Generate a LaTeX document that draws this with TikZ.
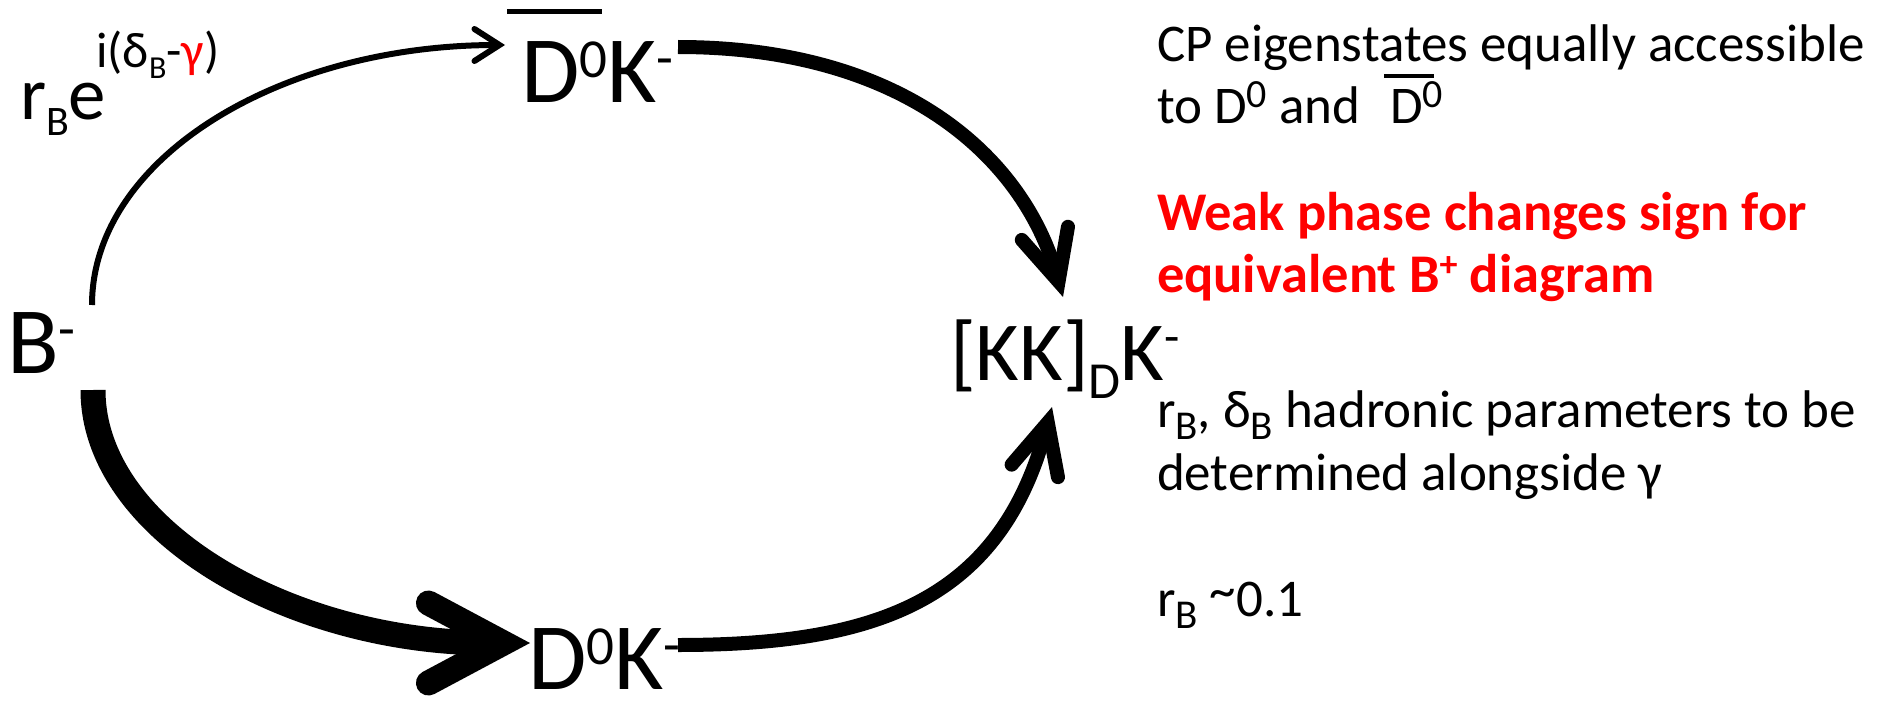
\documentclass[tikz,border=0pt]{standalone}
\usepackage{fontspec}
\setmainfont{Carlito}
\usetikzlibrary{arrows.meta}
\definecolor{pptred}{RGB}{255,0,0}
\newcommand\ssup[3]{\raisebox{#1pt}{\fontsize{#2}{#2}\selectfont #3}}
\begin{document}
\begin{tikzpicture}[x=1pt,y=-1pt,
  txt/.style={inner sep=0pt, outer sep=0pt, anchor=base west},
  bigtxt/.style={txt, text depth=0pt, font=\fontsize{95}{95}\selectfont},
  midtxt/.style={txt, font=\fontsize{84}{84}\selectfont},
  lbltxt/.style={txt, font=\fontsize{75}{75}\selectfont},
  notetxt/.style={txt, font=\fontsize{53}{63}\selectfont},
  rednote/.style={txt, text=pptred, font=\fontsize{54.5}{63}\selectfont\bfseries},
  barline/.style={line width=5pt},
  thinarr/.style={line width=6pt, -{Straight Barb[length=25pt, width=32pt, line cap=round, line join=miter]}},
  medarr/.style={line width=14pt, -{Straight Barb[length=50pt, width=48pt, line cap=round, line join=miter]}},
  thickarr/.style={line width=25pt, -{Straight Barb[length=75pt, width=80pt, line cap=round, line join=miter]}}
]
\useasboundingbox (0,0) rectangle (1903,706);

% main states
\node[bigtxt] (B) at (7,373) {B\ssup{26}{55}{-}};
\node[bigtxt] (Dbar) at (521,103) {D\ssup{25}{55}{0}K\ssup{26}{55}{-}};
\node[bigtxt] (D) at (528,689) {D\ssup{25}{55}{0}K\ssup{26}{55}{-}};
\node[midtxt] (KK) at (950,380) {[KK]\ssup{-18}{52}{D}K\ssup{27}{50}{-}};
\draw[barline] (507,12) -- (602,12);

% amplitude label
\node[lbltxt] (amp) at (20,120) {r\ssup{-16}{42}{B}e\kern-10pt\ssup{52}{50}{i(δ\ssup{-11}{32}{B}-\textcolor{pptred}{γ})}};

% connectors
\draw[thinarr] ([shift={(85,-68)}]B.base west) .. controls +(0,-145) and +(-228,0) .. ([shift={(-16,-58)}]Dbar.base west);
\draw[thickarr] ([shift={(86,17)}]B.base west) .. controls +(0,140) and +(-241,0) .. ([shift={(2,-46)}]D.base west);
\draw[medarr] ([shift={(157,-56)}]Dbar.base west) .. controls +(220,0) and +(-41,-144) .. ([shift={(113,-83)}]KK.base west);
\draw[medarr] ([shift={(150,-44)}]D.base west) .. controls +(200,0) and +(-52,193) .. ([shift={(102,27)}]KK.base west);

% notes
\node[notetxt] (n1) at (1157,62) {CP eigenstates equally accessible};
\node[notetxt] (n2) at (1157,124) {to D\ssup{16}{40}{0} and\hspace{18pt} D\ssup{16}{40}{0}};
\draw[line width=4pt] (1384,76) -- (1434,76);
\node[rednote] (n3) at (1157,230) {Weak phase changes sign for};
\node[rednote] (n4) at (1157,292) {equivalent B\ssup{16}{36}{+} diagram};
\node[notetxt] (n5) at (1157,427) {r\ssup{-12}{41}{B}, δ\ssup{-12}{41}{B} hadronic parameters to be};
\node[notetxt] (n6) at (1157,490) {determined alongside γ};
\node[notetxt] (n7) at (1157,616) {r\ssup{-12}{41}{B} \raisebox{8pt}{\textasciitilde}0.1};
\end{tikzpicture}
\end{document}
